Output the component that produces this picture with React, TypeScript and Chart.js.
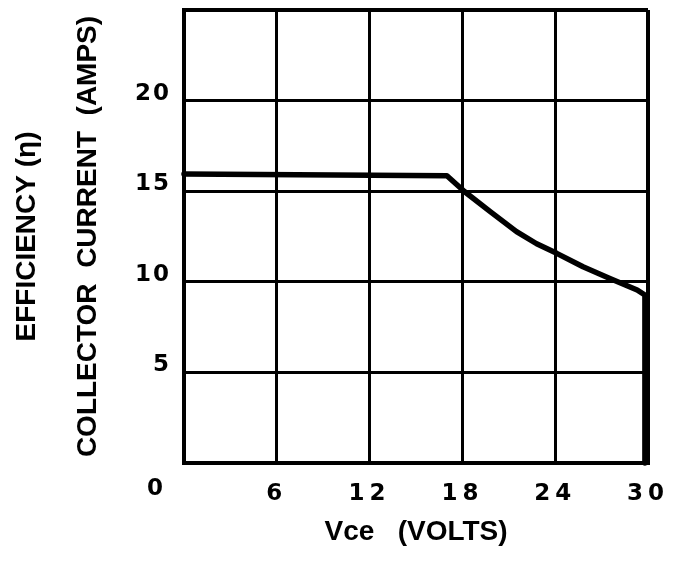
import React, { useEffect, useRef } from 'react';
import { Chart, registerables } from 'chart.js';

Chart.register(...registerables);

// ---- data ----
const vceVolts = [0, 17, 18.15, 19.8, 21.5, 22.8, 24.1, 25.8, 27.5, 29.3, 29.8, 29.8];
const currentAmps = [15.95, 15.85, 14.97, 13.87, 12.77, 12.1, 11.57, 10.83, 10.2, 9.55, 9.27, 0];

const xTickValues = [0, 6, 12, 18, 24, 30];
const xTickLabels = ['', '6', '12', '18', '24', '30'];
const yTickValues = [0, 5, 10, 15, 20, 25];
const yTickLabels = ['', '5', '10', '15', '20', ''];
const originLabel = '0';

const xTitle = 'Vce   (VOLTS)';
const yTitle = 'COLLECTOR  CURRENT  (AMPS)';
const y2Title = 'EFFICIENCY (η)';

const TITLE_FAMILY = '"Liberation Sans", Arial, Helvetica, sans-serif';
const TICK_FAMILY = '"DejaVu Sans", "Liberation Sans", Arial, sans-serif';

function spaceLabels(scale: any, px: number) {
  if (scale.__spaced) return;
  const base = Object.getPrototypeOf(scale).drawLabels;
  scale.drawLabels = function (area: any) {
    const c = this.ctx;
    c.save();
    c.letterSpacing = px + 'px';
    base.call(this, area);
    c.restore();
  };
  scale.__spaced = true;
}

const originPlugin = {
  id: 'originLabel',
  beforeDraw(chart: any) {
    chart.ctx.letterSpacing = '0px';
  },
  afterDraw(chart: any) {
    const { ctx, scales } = chart;
    const x = scales.x.getPixelForValue(0) - 29;
    const y = scales.x.top + 26;
    ctx.save();
    ctx.letterSpacing = '0px';
    ctx.font = `bold 23px ${TICK_FAMILY}`;
    ctx.fillStyle = '#000';
    ctx.textAlign = 'center';
    ctx.textBaseline = 'middle';
    ctx.fillText(originLabel, x, y);
    ctx.restore();
  },
};

export default function App() {
  const ref = useRef<HTMLCanvasElement>(null);

  useEffect(() => {
    document.body.style.margin = '0';
    const canvas = ref.current;
    if (!canvas) return;

    const chart = new Chart(canvas, {
      type: 'scatter',
      data: {
        datasets: [
          {
            data: vceVolts.map((x, i) => ({ x, y: currentAmps[i] })),
            showLine: true,
            borderColor: '#000',
            backgroundColor: '#000',
            borderWidth: 5.5,
            pointRadius: 0,
            borderCapStyle: 'round',
            borderJoinStyle: 'round',
            tension: 0,
            clip: false,
            xAxisID: 'x',
            yAxisID: 'y',
          } as any,
        ],
      },
      options: {
        responsive: false,
        animation: false,
        events: [],
        layout: { padding: { top: 10, right: 28, bottom: 0, left: 0 } },
        plugins: { legend: { display: false }, tooltip: { enabled: false } },
        scales: {
          x: {
            type: 'linear',
            position: 'bottom',
            min: 0,
            max: 30,
            afterBuildTicks: (s: any) => {
              s.ticks = xTickValues.map((v) => ({ value: v }));
            },
            ticks: {
              autoSkip: false,
              maxRotation: 0,
              callback: (v: any) => xTickLabels[xTickValues.indexOf(Number(v))],
              color: '#000',
              padding: 17,
              font: { family: TICK_FAMILY, size: 23, weight: 'bold' },
            },
            grid: {
              color: '#000',
              lineWidth: (c: any) => (c.tick && c.tick.value === 30 ? 4 : 3),
              drawTicks: false,
            },
            border: { display: true, color: '#000', width: 4 },
            title: {
              display: true,
              text: xTitle,
              color: '#000',
              font: { family: TITLE_FAMILY, size: 28, weight: 'bold' },
              padding: { top: 0, bottom: 12 },
            },
            afterFit: (s: any) => {
              s.height = 98;
              s.paddingLeft = 0;
              s.paddingRight = 0;
              spaceLabels(s, 5);
            },
          },
          y: {
            type: 'linear',
            position: 'left',
            weight: 0,
            min: 0,
            max: 25,
            afterBuildTicks: (s: any) => {
              s.ticks = yTickValues.map((v) => ({ value: v }));
            },
            ticks: {
              autoSkip: false,
              callback: (v: any) => yTickLabels[yTickValues.indexOf(Number(v))],
              color: '#000',
              padding: 13,
              labelOffset: -7,
              font: { family: TICK_FAMILY, size: 23, weight: 'bold' },
            },
            grid: {
              color: '#000',
              lineWidth: (c: any) => (c.tick && c.tick.value === 25 ? 4 : 3),
              drawTicks: false,
            },
            border: { display: true, color: '#000', width: 4 },
            title: {
              display: true,
              text: yTitle,
              color: '#000',
              font: { family: TITLE_FAMILY, size: 28, weight: 'bold' },
              padding: { top: 21, bottom: 0 },
            },
            afterFit: (s: any) => {
              s.width = 134;
              s.paddingTop = 0;
              s.paddingBottom = 0;
              spaceLabels(s, 2);
            },
          },
          y2: {
            type: 'linear',
            position: 'left',
            weight: 1,
            min: 0,
            max: 1,
            display: true,
            ticks: { display: false },
            grid: { display: false, drawTicks: false },
            border: { display: false },
            title: {
              display: true,
              text: y2Title,
              color: '#000',
              font: { family: TITLE_FAMILY, size: 28, weight: 'bold' },
              padding: { top: 10, bottom: 0 },
            },
            afterFit: (s: any) => {
              s.width = 50;
              s.paddingTop = 0;
              s.paddingBottom = 0;
            },
          },
        },
      } as any,
      plugins: [originPlugin],
    });

    return () => chart.destroy();
  }, []);

  return (
    <div style={{ width: 676, height: 561 }}>
      <canvas ref={ref} width={676} height={561} style={{ display: 'block', width: 676, height: 561 }} />
    </div>
  );
}
